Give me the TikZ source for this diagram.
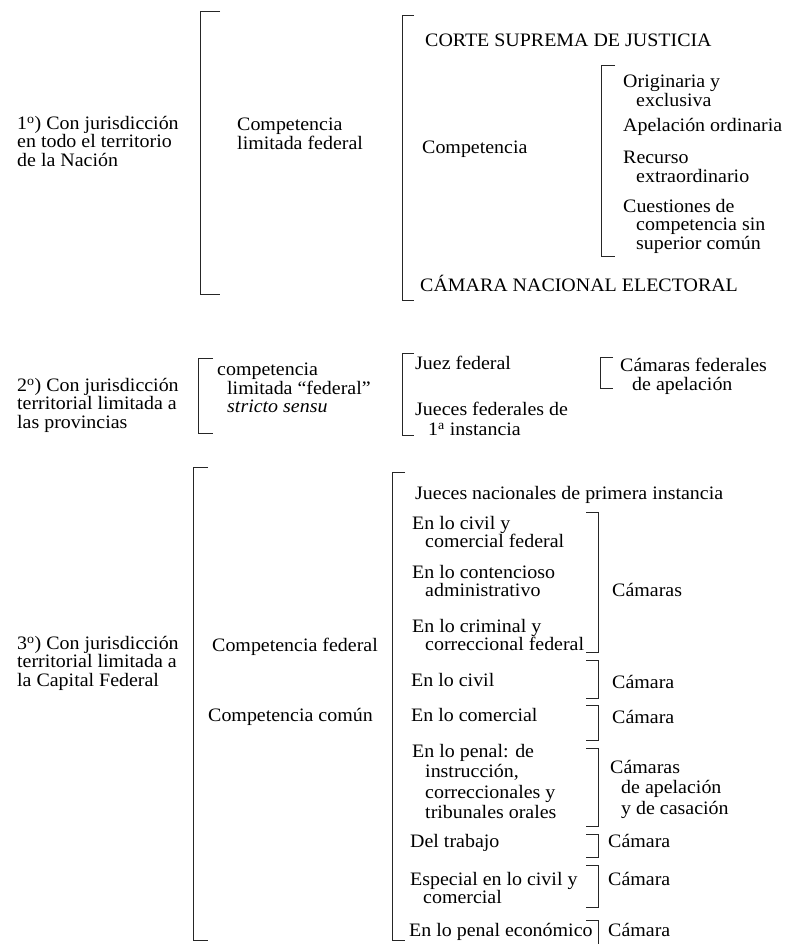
\documentclass[tikz,border=0pt]{standalone}
\usepackage{fontspec}
\setmainfont{Liberation Serif}[FakeStretch=1.05]
\newcommand\LBr[4]{\draw[brk] (#1+#4,#2) -- (#1,#2) -- (#1,#3) -- (#1+#4,#3);}
\newcommand\RBr[4]{\draw[brk] (#1-#4,#2) -- (#1,#2) -- (#1,#3) -- (#1-#4,#3);}
\newcommand\ind{\hspace*{13pt}}
\begin{document}
\begin{tikzpicture}[x=1pt,y=-1pt,
  txt/.style={anchor=north west, inner sep=0pt, align=left,
    font=\fontsize{19}{18.5}\selectfont, execute at begin node=\strut},
  brk/.style={line width=0.8pt, black!85}]
\useasboundingbox (0,0) rectangle (788,944);
% ---------- section 1
\node[txt] (s1) at (17,116) {1\textsuperscript{o}) Con jurisdicción\\en todo el territorio\\de la Nación};
\LBr{200}{11}{294}{20}
\node[txt] (s1c) at (237,118) {Competencia\\limitada federal};
\LBr{402}{15}{300}{12}
\node[txt] (corte) at (425,33) {CORTE SUPREMA DE JUSTICIA};
\node[txt] (comp) at (422,140) {Competencia};
\LBr{601}{65}{256}{14}
\node[txt] (orig) at (623,75) {Originaria y\\\ind exclusiva};
\node[txt] (apel) at (623,118) {Apelación ordinaria};
\node[txt] (recu) at (623,151) {Recurso\\\ind extraordinario};
\node[txt] (cues) at (623,199) {Cuestiones de\\\ind competencia sin\\\ind superior común};
\node[txt] (cne) at (420,275) {CÁMARA NACIONAL ELECTORAL};
% ---------- section 2
\node[txt] (s2) at (17,378) {2\textsuperscript{o}) Con jurisdicción\\territorial limitada a\\las provincias};
\LBr{198}{358}{433}{15}
\node[txt] (s2c) at (217,363) {competencia\\\hspace*{10pt}limitada “federal”\\\hspace*{10pt}\textit{stricto sensu}};
\LBr{402}{353}{435}{12}
\node[txt] (juez) at (415,356) {Juez federal};
\node[txt] (jueces) at (415,402) {Jueces federales de\\[1.5pt]\ind 1\textsuperscript{a} instancia};
\LBr{600}{357}{388}{13}
\node[txt] (camf) at (620,358) {Cámaras federales\\\hspace*{12pt}de apelación};
% ---------- section 3
\node[txt] (s3) at (17,636) {3\textsuperscript{o}) Con jurisdicción\\territorial limitada a\\la Capital Federal};
\LBr{193}{467}{940}{15}
\node[txt] (cfed) at (212,638) {Competencia federal};
\node[txt] (ccom) at (208,708) {Competencia común};
\LBr{392}{472}{940}{13}
\node[txt] (jnac) at (415,486) {Jueces nacionales de primera instancia};
\node[txt] (r1) at (412,516) {En lo civil y\\\ind comercial federal};
\node[txt] (r2) at (412,565) {En lo contencioso\\\ind administrativo};
\node[txt] (r3) at (412,619) {En lo criminal y\\\ind correccional federal};
\node[txt] (r4) at (411,673) {En lo civil};
\node[txt] (r5) at (411,708) {En lo comercial};
\node[txt] (r6) at (412,744) {En lo penal: de\\[2pt]\ind instrucción,\\[2pt]\ind correccionales y\\[2pt]\ind tribunales orales};
\node[txt] (r7) at (410,834) {Del trabajo};
\node[txt] (r8) at (410,872) {Especial en lo civil y\\\ind comercial};
\node[txt] (r9) at (409,923) {En lo penal económico};
\RBr{598}{512}{652}{12}
\RBr{598}{660}{698}{12}
\RBr{598}{705}{740}{12}
\RBr{598}{748}{826}{12}
\RBr{598}{834}{857}{12}
\RBr{598}{865}{907}{12}
\draw[brk] (586,920) -- (598,920) -- (598,944);
\node[txt] (cams) at (612,583) {Cámaras};
\node[txt] (cam1) at (612,675) {Cámara};
\node[txt] (cam2) at (612,710) {Cámara};
\node[txt] (cam3) at (610,760) {Cámaras\\[2pt]\hspace*{11pt}de apelación\\[2pt]\hspace*{11pt}y de casación};
\node[txt] (cam4) at (608,834) {Cámara};
\node[txt] (cam5) at (608,872) {Cámara};
\node[txt] (cam6) at (608,923) {Cámara};
\end{tikzpicture}
\end{document}
